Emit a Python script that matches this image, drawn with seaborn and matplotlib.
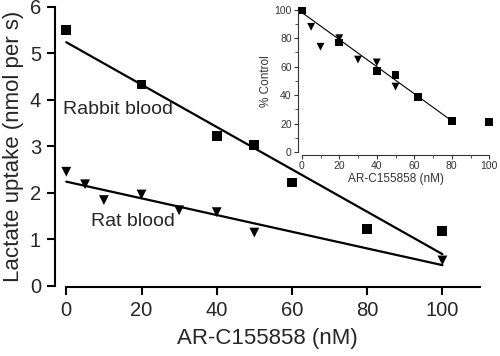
import pandas as pd
import matplotlib.pyplot as plt
import seaborn as sns

# main panel: lactate uptake vs inhibitor concentration
rabbit_conc = [0, 20, 40, 50, 60, 80, 100]
rabbit_uptake = [5.5, 4.33, 3.22, 3.03, 2.22, 1.22, 1.18]
rat_conc = [0, 5, 10, 20, 30, 40, 50, 100]
rat_uptake = [2.45, 2.18, 1.84, 1.96, 1.62, 1.58, 1.14, 0.54]

# inset: % control
inset_sq_conc = [0, 20, 40, 50, 62, 80, 100]
inset_sq_pct = [100, 77, 57, 54, 39, 22, 21]
inset_tri_conc = [5, 10, 20, 30, 40, 50]
inset_tri_pct = [88, 74, 80, 65, 63, 46]

main_xticks = [0, 20, 40, 60, 80, 100]
main_yticks = [0, 1, 2, 3, 4, 5, 6]
inset_ticks = [0, 20, 40, 60, 80, 100]

rabbit = pd.DataFrame({"conc": rabbit_conc, "uptake": rabbit_uptake})
rat = pd.DataFrame({"conc": rat_conc, "uptake": rat_uptake})
sq = pd.DataFrame({"conc": inset_sq_conc, "pct": inset_sq_pct})
tri = pd.DataFrame({"conc": inset_tri_conc, "pct": inset_tri_pct})

sns.set_theme(style="ticks")
plt.rcParams['font.family'] = ['Liberation Sans', 'DejaVu Sans']

fig = plt.figure(figsize=(5, 3.56), dpi=100)
ax = fig.add_axes([0.11, 0.194, 0.85, 0.792])

sns.regplot(data=rabbit, x="conc", y="uptake", ax=ax, ci=None, marker="s",
            scatter_kws={"s": 50, "color": "black", "edgecolor": "none", "alpha": 1},
            line_kws={"color": "black", "lw": 1.6})
sns.regplot(data=rat, x="conc", y="uptake", ax=ax, ci=None, marker="v",
            scatter_kws={"s": 50, "color": "black", "edgecolor": "none", "alpha": 1},
            line_kws={"color": "black", "lw": 1.6})

ax.text(-1, 3.8, "Rabbit blood", fontsize=14, va="center", ha="left")
ax.text(6.5, 1.38, "Rat blood", fontsize=14, va="center", ha="left")

ax.set_xlim(-3, 110)
ax.set_ylim(-0.03, 6.04)
ax.set_xticks(main_xticks)
ax.set_yticks(main_yticks)
ax.spines['top'].set_visible(False)
ax.spines['right'].set_visible(False)
ax.spines['bottom'].set_bounds(0, 110)
ax.spines['left'].set_bounds(0, 6)
for s in ['bottom', 'left']:
    ax.spines[s].set_color('black')
    ax.spines[s].set_linewidth(1.5)
ax.tick_params(axis='both', labelsize=14.5, width=1.5, length=6, color='black', pad=4)
ax.set_xlabel("AR-C155858 (nM)", fontsize=16, labelpad=6)
ax.set_ylabel("Lactate uptake (nmol per s)", fontsize=16, labelpad=4)

# inset
gray = '#333333'
ins = fig.add_axes([0.596, 0.5646, 0.39, 0.416])
ins.patch.set_alpha(0)
sns.regplot(data=sq[sq["conc"] <= 80], x="conc", y="pct", ax=ins, ci=None,
            scatter=False, line_kws={"color": "black", "lw": 0.8})
sns.scatterplot(data=sq, x="conc", y="pct", ax=ins, marker="s", s=32,
                color="black", edgecolor="none")
sns.scatterplot(data=tri, x="conc", y="pct", ax=ins, marker="v", s=32,
                color="black", edgecolor="none")

ins.set_xlim(-2, 102)
ins.set_ylim(-2, 102)
ins.set_xticks(inset_ticks)
ins.set_yticks(inset_ticks)
ins.set_xticks([10, 30, 50, 70, 90], minor=True)
ins.set_yticks([10, 30, 50, 70, 90], minor=True)
ins.spines['top'].set_visible(False)
ins.spines['right'].set_visible(False)
ins.spines['bottom'].set_bounds(0, 100)
ins.spines['left'].set_bounds(0, 100)
for s in ['bottom', 'left']:
    ins.spines[s].set_color(gray)
    ins.spines[s].set_linewidth(0.8)
ins.tick_params(axis='both', which='major', labelsize=7.5, width=0.8, length=3,
                color=gray, labelcolor=gray, pad=1.5)
ins.tick_params(axis='both', which='minor', width=0.6, length=2, color=gray)
ins.set_xlabel("AR-C155858 (nM)", fontsize=8.5, color=gray, labelpad=1)
ins.set_ylabel("% Control", fontsize=8.5, color=gray, labelpad=2)

fig.savefig("out.png", dpi=100)
